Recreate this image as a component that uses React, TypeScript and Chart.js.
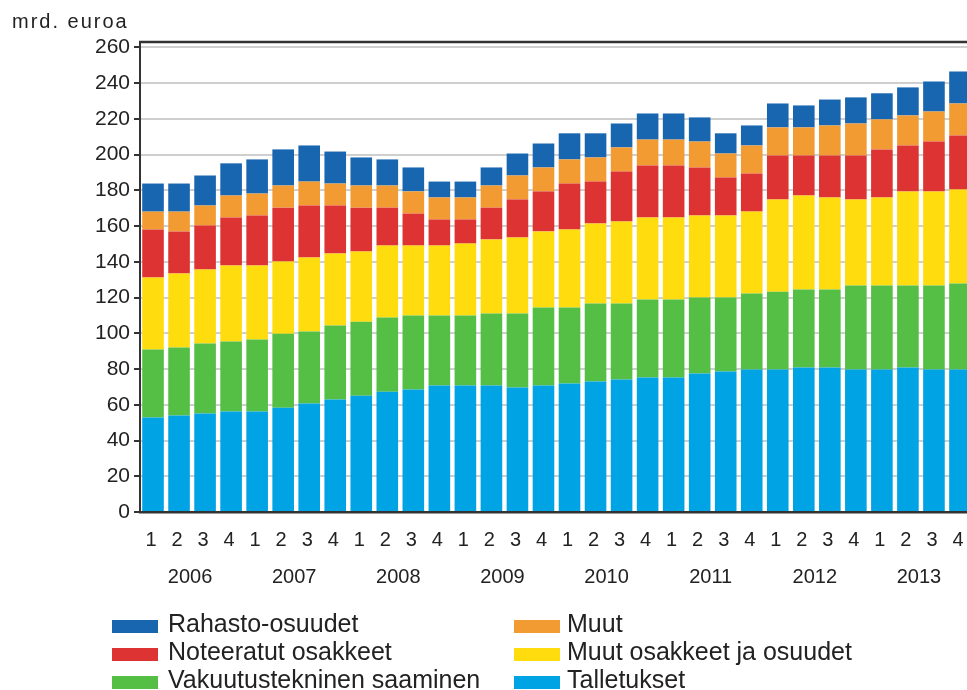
import React, { useEffect, useRef } from "react";
import { Chart, registerables } from "chart.js";

Chart.register(...registerables);

const quarterLabels = [
  "1", "2", "3", "4", "1", "2", "3", "4", "1", "2", "3", "4", "1", "2", "3", "4",
  "1", "2", "3", "4", "1", "2", "3", "4", "1", "2", "3", "4", "1", "2", "3", "4",
];
const yearLabels = ["2006", "2007", "2008", "2009", "2010", "2011", "2012", "2013"];
const yTicks = [0, 20, 40, 60, 80, 100, 120, 140, 160, 180, 200, 220, 240, 260];

const talletukset = [
  52.9, 54.0, 55.1, 56.2, 56.2, 58.4, 60.7, 62.9, 65.1, 67.3, 68.5, 70.8, 70.8, 70.8, 69.6, 70.8,
  71.9, 73.0, 74.1, 75.2, 75.2, 77.5, 78.6, 79.7, 79.7, 80.8, 80.8, 79.7, 79.7, 80.8, 79.7, 79.7,
];
const vakuutustekninen = [
  38.0, 38.0, 39.2, 39.2, 40.3, 41.4, 40.3, 41.4, 41.4, 41.5, 41.4, 39.1, 39.1, 40.3, 41.5, 43.6,
  42.5, 43.7, 42.6, 43.7, 43.7, 42.5, 41.4, 42.5, 43.6, 43.7, 43.7, 47.0, 47.0, 45.9, 47.0, 48.1,
];
const muutOsakkeet = [
  40.3, 41.5, 41.4, 42.5, 41.4, 40.4, 41.4, 40.3, 39.2, 40.3, 39.2, 39.2, 40.3, 41.4, 42.5, 42.6,
  43.7, 44.7, 45.8, 45.9, 45.9, 45.9, 45.9, 45.9, 51.6, 52.6, 51.5, 48.2, 49.3, 52.7, 52.7, 52.7,
];
const noteeratut = [
  26.9, 23.5, 24.6, 26.9, 28.0, 30.1, 29.1, 26.9, 24.6, 21.2, 17.9, 14.6, 13.5, 17.8, 21.3, 22.4,
  25.7, 23.5, 28.0, 29.1, 29.1, 26.9, 21.3, 21.3, 24.6, 22.4, 23.5, 24.6, 26.9, 25.7, 27.9, 30.2,
];
const muut = [
  10.0, 11.1, 11.2, 12.3, 12.3, 12.4, 13.4, 12.3, 12.4, 12.4, 12.4, 12.3, 12.3, 12.4, 13.4, 13.4,
  13.5, 13.5, 13.5, 14.5, 14.5, 14.5, 13.4, 15.7, 15.7, 15.7, 16.8, 17.9, 16.8, 16.8, 16.8, 17.9,
];
const rahasto = [
  15.7, 15.7, 16.8, 18.0, 19.1, 20.2, 20.2, 17.9, 15.7, 14.6, 13.4, 8.9, 8.9, 10.1, 12.3, 13.4,
  14.6, 13.5, 13.4, 14.6, 14.6, 13.5, 11.3, 11.2, 13.4, 12.3, 14.5, 14.6, 14.6, 15.7, 16.8, 17.9,
];

const seriesNames = [
  "Talletukset",
  "Vakuutustekninen saaminen",
  "Muut osakkeet ja osuudet",
  "Noteeratut osakkeet",
  "Muut",
  "Rahasto-osuudet",
];
const seriesColors = ["#00A3E4", "#55BE44", "#FEDC0E", "#DD3333", "#F39B33", "#1865B0"];
const legendCol1 = ["Rahasto-osuudet", "Noteeratut osakkeet", "Vakuutustekninen saaminen"];
const legendCol2 = ["Muut", "Muut osakkeet ja osuudet", "Talletukset"];

const FONT = '"Liberation Sans", Arial, Helvetica, sans-serif';
const TEXT = "#222222";

const decorPlugin = {
  id: "decor",
  afterDraw(chart: any) {
    const { ctx, chartArea } = chart;
    ctx.save();
    // top frame
    ctx.strokeStyle = "#333333";
    ctx.lineWidth = 2.5;
    ctx.beginPath();
    ctx.moveTo(chartArea.left - 1, chartArea.top);
    ctx.lineTo(chartArea.right, chartArea.top);
    ctx.stroke();
    // unit title
    ctx.fillStyle = TEXT;
    ctx.font = "20px " + FONT;
    ctx.textAlign = "left";
    ctx.textBaseline = "alphabetic";
    try { (ctx as any).letterSpacing = "2px"; } catch (e) {}
    ctx.fillText("mrd. euroa", 12, 28);
    try { (ctx as any).letterSpacing = "0px"; } catch (e) {}
    // legend
    ctx.font = "25px " + FONT;
    const ds = chart.data.datasets;
    const colorOf = (name: string) => {
      const d = ds.find((x: any) => x.label === name);
      return d ? d.backgroundColor : "#000";
    };
    const cols = [
      { names: legendCol1, boxX: 112, textX: 168 },
      { names: legendCol2, boxX: 514, textX: 567 },
    ];
    const baselines = [632, 660, 688];
    cols.forEach((c) => {
      c.names.forEach((n, i) => {
        const b = baselines[i];
        ctx.fillStyle = colorOf(n);
        ctx.fillRect(c.boxX, b - 12, 46, 13);
        ctx.fillStyle = TEXT;
        ctx.fillText(n, c.textX, b);
      });
    });
    ctx.restore();
  },
};

export default function App() {
  const ref = useRef<HTMLCanvasElement | null>(null);

  useEffect(() => {
    if (!ref.current) return;
    const values = [talletukset, vakuutustekninen, muutOsakkeet, noteeratut, muut, rahasto];
    const chart = new Chart(ref.current, {
      type: "bar",
      data: {
        labels: quarterLabels,
        datasets: seriesNames.map((name, i) => ({
          label: name,
          data: values[i],
          backgroundColor: seriesColors[i],
          borderWidth: 0,
          barPercentage: 0.83,
          categoryPercentage: 1,
          xAxisID: "x",
        })),
      },
      options: {
        animation: false,
        responsive: false,
        devicePixelRatio: 1,
        layout: { padding: { top: 42, bottom: 92, left: 0, right: 17 } },
        plugins: {
          legend: { display: false },
          tooltip: { enabled: false },
          title: { display: false },
        },
        scales: {
          x: {
            type: "category",
            stacked: true,
            position: "bottom",
            weight: 0,
            grid: { display: false, drawTicks: false },
            border: { display: true, color: "#333333", width: 2.5 },
            ticks: {
              color: TEXT,
              font: { family: FONT, size: 20 },
              padding: 16,
              labelOffset: -2,
              maxRotation: 0,
              autoSkip: false,
            },
            afterFit: (s: any) => { s.height = 46; },
          },
          x2: {
            type: "category",
            labels: yearLabels,
            position: "bottom",
            weight: 1,
            offset: true,
            grid: { display: false, drawTicks: false },
            border: { display: false },
            ticks: {
              color: TEXT,
              font: { family: FONT, size: 20 },
              padding: 7,
              labelOffset: -2,
              maxRotation: 0,
              autoSkip: false,
            },
            afterFit: (s: any) => { s.height = 40; },
          },
          y: {
            stacked: true,
            min: 0,
            max: 263,
            afterBuildTicks: (s: any) => { s.ticks = yTicks.map((v) => ({ value: v })); },
            afterFit: (s: any) => { s.width = 140; },
            grid: {
              color: "#cfcfcf",
              lineWidth: 2,
              drawTicks: true,
              tickLength: 6,
              tickColor: "#333333",
              tickWidth: 2,
            },
            border: { display: true, color: "#333333", width: 2 },
            ticks: {
              color: TEXT,
              font: { family: FONT, size: 21 },
              padding: 4,
            },
          },
        },
      },
      plugins: [decorPlugin],
    } as any);
    return () => chart.destroy();
  }, []);

  return (
    <div
      style={{
        position: "fixed",
        left: 0,
        top: 0,
        width: 967,
        height: 690,
        overflow: "hidden",
        background: "#ffffff",
      }}
    >
      <canvas ref={ref} width={990} height={690} style={{ display: "block" }} />
    </div>
  );
}
